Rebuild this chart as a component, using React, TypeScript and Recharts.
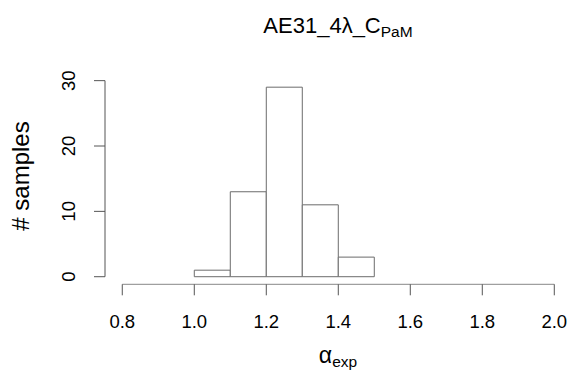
import React from "react";
import {
  ComposedChart,
  XAxis,
  YAxis,
  ReferenceArea,
  ReferenceLine,
} from "recharts";

// histogram bins (alpha_exp) and counts
const binStart = [1.0, 1.1, 1.2, 1.3, 1.4];
const binEnd = [1.1, 1.2, 1.3, 1.4, 1.5];
const counts = [1, 13, 29, 11, 3];

const xTicks = [0.8, 1.0, 1.2, 1.4, 1.6, 1.8, 2.0];
const yTicks = [0, 10, 20, 30];

const FONT = "'Liberation Sans', Arial, sans-serif";
const W = 571;
const H = 376;

const data = binStart.map((s, i) => ({ x: (s + binEnd[i]) / 2, count: counts[i] }));

const YTick = (props: any) => {
  const { x, y, payload } = props;
  return (
    <text
      x={x}
      y={y}
      transform={`rotate(-90, ${x}, ${y})`}
      textAnchor='middle'
      fontSize={18.5}
      fontFamily={FONT}
      fill='#000'
    >
      {payload.value}
    </text>
  );
};

const XLabel = (props: any) => {
  const vb = props.viewBox;
  const cx = vb.x + vb.width / 2;
  return (
    <text x={cx} y={vb.y + 79} textAnchor='middle' fontFamily={FONT} fill='#000'>
      <tspan fontSize={23}>α</tspan>
      <tspan fontSize={15.5} dy={4}>exp</tspan>
    </text>
  );
};

const YLabel = (props: any) => {
  const vb = props.viewBox;
  const cy = 176;
  const x = 29;
  return (
    <text
      x={x}
      y={cy}
      transform={`rotate(-90, ${x}, ${cy})`}
      textAnchor='middle'
      fontSize={24}
      fontFamily={FONT}
      fill='#000'
    >
      # samples
    </text>
  );
};

export default function App() {
  return (
    <div style={{ position: "absolute", left: 0, top: 0, width: W, height: H, background: "#fff" }}>
      <ComposedChart
        width={W}
        height={H}
        data={data}
        margin={{ top: 79.6, right: 0, bottom: 31.7, left: 0 }}
      >
        <XAxis
          dataKey='x'
          type='number'
          domain={[0.752, 2.0464]}
          ticks={xTicks}
          tickFormatter={(v) => v.toFixed(1)}
          allowDataOverflow
          axisLine={false}
          tickLine={{ stroke: "#555" }}
          tickSize={11}
          tickMargin={20}
          height={60}
          tick={{ fontSize: 18.5, fontFamily: FONT, fill: "#000" }}
          interval={0}
          label={<XLabel />}
        />
        <YAxis
          type='number'
          domain={[-1.16, 30.16]}
          ticks={yTicks}
          allowDataOverflow
          axisLine={false}
          tickLine={{ stroke: "#555" }}
          tickSize={11}
          tickMargin={19}
          width={105}
          tick={<YTick />}
          interval={0}
          label={<YLabel />}
        />
        {binStart.map((s, i) => (
          <ReferenceArea
            key={s}
            x1={s}
            x2={binEnd[i]}
            y1={0}
            y2={counts[i]}
            fill='#fff'
            fillOpacity={1}
            stroke='#6b6b6b'
            strokeWidth={1}
            ifOverflow='visible'
          />
        ))}
        <ReferenceLine
          segment={[{ x: xTicks[0], y: -1.16 }, { x: xTicks[xTicks.length - 1], y: -1.16 }]}
          stroke='#888'
          ifOverflow='visible'
        />
        <ReferenceLine
          segment={[{ x: 0.752, y: yTicks[0] }, { x: 0.752, y: yTicks[yTicks.length - 1] }]}
          stroke='#555'
          ifOverflow='visible'
        />
      </ComposedChart>
      <svg
        width={W}
        height={50}
        style={{ position: "absolute", left: 0, top: 0, pointerEvents: "none" }}
      >
        <text x={338} y={32.7} textAnchor='middle' fontFamily={FONT} fill='#000'>
          <tspan fontSize={22}>AE31_4λ_C</tspan>
          <tspan fontSize={15.5} dy={4}>PaM</tspan>
        </text>
      </svg>
    </div>
  );
}
